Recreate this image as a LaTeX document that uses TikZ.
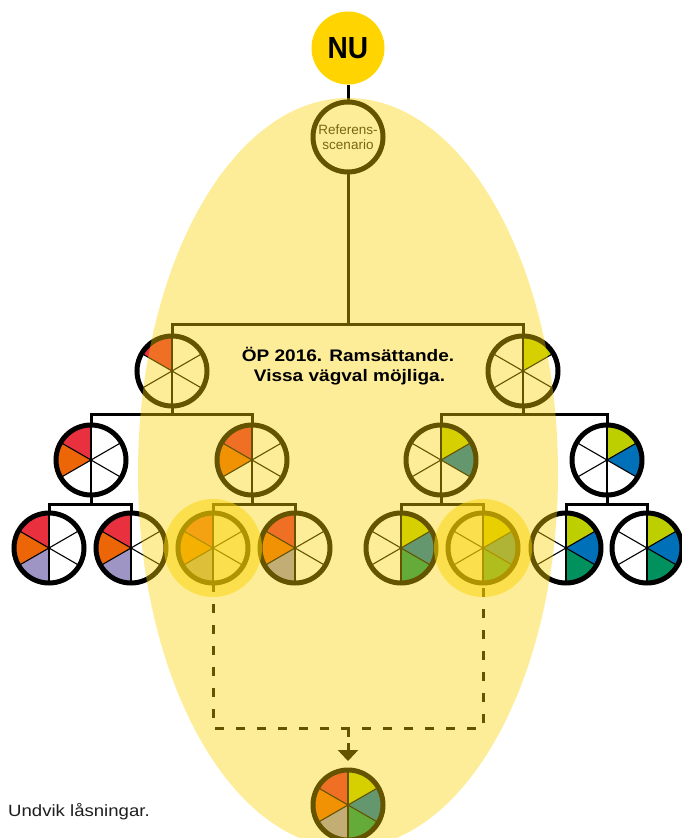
\documentclass[tikz,border=0pt]{standalone}
\usepackage{fontspec}
\setmainfont{Liberation Sans}
\newfontfamily\widefont[FakeStretch=1.14]{Liberation Sans}
\newfontfamily\nufont[FakeStretch=0.92]{Liberation Sans}
\usetikzlibrary{arrows.meta}

% sector colours
\definecolor{wred}{HTML}{E8303E}
\definecolor{worange}{HTML}{EC6608}
\definecolor{wlav}{HTML}{9E95C4}
\definecolor{wlime}{HTML}{BECF00}
\definecolor{wblue}{HTML}{0070B8}
\definecolor{wgreen}{HTML}{00915F}
% yellows
\definecolor{sun}{HTML}{FFD400}
\definecolor{veil}{HTML}{FAD200}
\definecolor{reftext}{HTML}{202020}
\definecolor{notetext}{HTML}{1E1E1E}

\tikzset{
  wheelnode/.style={circle, minimum size=70pt, inner sep=0pt, outer sep=0pt},
  ring/.style={line width=5pt, draw=black},
  divider/.style={line width=1.1pt, draw=black},
  conn/.style={line width=3pt, draw=black},
  dashconn/.style={line width=3pt, draw=black, dash pattern=on 9pt off 12pt},
  halo/.style={fill=veil, fill opacity=0.5},
  veilfill/.style={fill=veil, fill opacity=0.4},
}

% paint a six-sector wheel on an existing node; colours run clockwise
% from the top-right sector
\newcommand\paintwheel[2]{%
  \fill[white] (#1.center) circle[radius=35];
  \foreach \c [count=\i] in {#2} {
    \pgfmathsetmacro\a{60*(\i-1)-90}
    \fill[\c] (#1.center) -- ++(\a:35) arc[start angle=\a, delta angle=60, radius=35] -- cycle;
  }
  \foreach \a in {-90,-30,30,90,150,210}
    \draw[divider] (#1.center) -- ++(\a:35);
  \draw[ring] (#1.center) circle[radius=35];
}

\begin{document}
\begin{tikzpicture}[x=1pt,y=-1pt]
\useasboundingbox (0,0) rectangle (681,838);

% ---- nodes ----
\node[circle, fill=sun, minimum size=73pt, inner sep=0pt,
      font=\nufont\bfseries\fontsize{30.5}{32}\selectfont] (nu) at (348,48) {NU};
\node[wheelnode] (ref) at (348,137) {};

\node[wheelnode] (p) at (172,371) {};
\node[wheelnode] (q) at (523,371) {};

\node[wheelnode] (p1) at (91,460) {};
\node[wheelnode] (p2) at (252,460) {};
\node[wheelnode] (q1) at (441,460) {};
\node[wheelnode] (q2) at (607,460) {};

\node[wheelnode] (p11) at (49,548) {};
\node[wheelnode] (p12) at (131,548) {};
\node[wheelnode] (p21) at (213,548) {};
\node[wheelnode] (p22) at (295,548) {};
\node[wheelnode] (q11) at (401,548) {};
\node[wheelnode] (q12) at (483,548) {};
\node[wheelnode] (q21) at (566,548) {};
\node[wheelnode] (q22) at (647,548) {};

\node[wheelnode] (bot) at (348,805) {};

\coordinate (bar0) at (0,324);
\coordinate (bar1) at (0,414);
\coordinate (bar2) at (0,504);
\coordinate (dashbar) at (0,728);

% ---- connectors ----
\draw[conn] (nu.south) -- (ref.north);
\draw[conn] (ref.south) -- (ref.south |- bar0) -| (p.north);
\draw[conn] (ref.south |- bar0) -| (q.north);

\draw[conn] (p.south) -- (p.south |- bar1) -| (p1.north);
\draw[conn] (p.south |- bar1) -| (p2.north);
\draw[conn] (q.south) -- (q.south |- bar1) -| (q1.north);
\draw[conn] (q.south |- bar1) -| (q2.north);

\draw[conn] (p1.south) -- (p1.south |- bar2) -| (p11.north);
\draw[conn] (p1.south |- bar2) -| (p12.north);
\draw[conn] (p2.south) -- (p2.south |- bar2) -| (p21.north);
\draw[conn] (p2.south |- bar2) -| (p22.north);
\draw[conn] (q1.south) -- (q1.south |- bar2) -| (q11.north);
\draw[conn] (q1.south |- bar2) -| (q12.north);
\draw[conn] (q2.south) -- (q2.south |- bar2) -| (q21.north);
\draw[conn] (q2.south |- bar2) -| (q22.north);

\draw[dashconn] (p21.south) -- (p21.south |- dashbar) -- (q12.south |- dashbar) -- (q12.south);
\draw[conn, dash pattern=on 9pt off 6pt, -{Triangle[width=20pt,length=11pt]}, shorten >=9pt]
  (bot.north |- dashbar) -- (bot.north);

% ---- wheels ----
\fill[white] (ref.center) circle[radius=35];
\draw[ring] (ref.center) circle[radius=35];
\node[font=\fontsize{13.5}{14.5}\selectfont, align=center, text=reftext] (reflabel) at (348,137.3) {Referens-\\scenario};

\paintwheel{p}{white,white,white,white,white,wred}
\paintwheel{q}{wlime,white,white,white,white,white}

\paintwheel{p1}{white,white,white,white,worange,wred}
\paintwheel{p2}{white,white,white,white,worange,wred}
\paintwheel{q1}{wlime,wblue,white,white,white,white}
\paintwheel{q2}{wlime,wblue,white,white,white,white}

\paintwheel{p11}{white,white,white,wlav,worange,wred}
\paintwheel{p12}{white,white,white,wlav,worange,wred}
\paintwheel{p21}{white,white,white,wlav,worange,wred}
\paintwheel{p22}{white,white,white,wlav,worange,wred}
\paintwheel{q11}{wlime,wblue,wgreen,white,white,white}
\paintwheel{q12}{wlime,wblue,wgreen,white,white,white}
\paintwheel{q21}{wlime,wblue,wgreen,white,white,white}
\paintwheel{q22}{wlime,wblue,wgreen,white,white,white}

\paintwheel{bot}{wlime,wblue,wgreen,wlav,worange,wred}

% ---- highlights and the translucent field ----
\fill[halo] (p21.center) circle[radius=49];
\fill[halo] (q12.center) circle[radius=49];
\fill[veilfill] (348,473) ellipse[x radius=210, y radius=375];

% ---- texts ----
\node[font=\widefont\bfseries\fontsize{16.7}{20}\selectfont, anchor=base, inner sep=0pt] (op1) at (348,361.7) {ÖP 2016. Ramsättande.};
\node[font=\widefont\bfseries\fontsize{16.7}{20}\selectfont, anchor=base, inner sep=0pt] (op2) at (349.5,381.7) {Vissa vägval möjliga.};
\node[font=\widefont\fontsize{16.3}{18}\selectfont, anchor=base west, inner sep=0pt, text=notetext] (note) at (8,816.7) {Undvik låsningar.};
\end{tikzpicture}
\end{document}
